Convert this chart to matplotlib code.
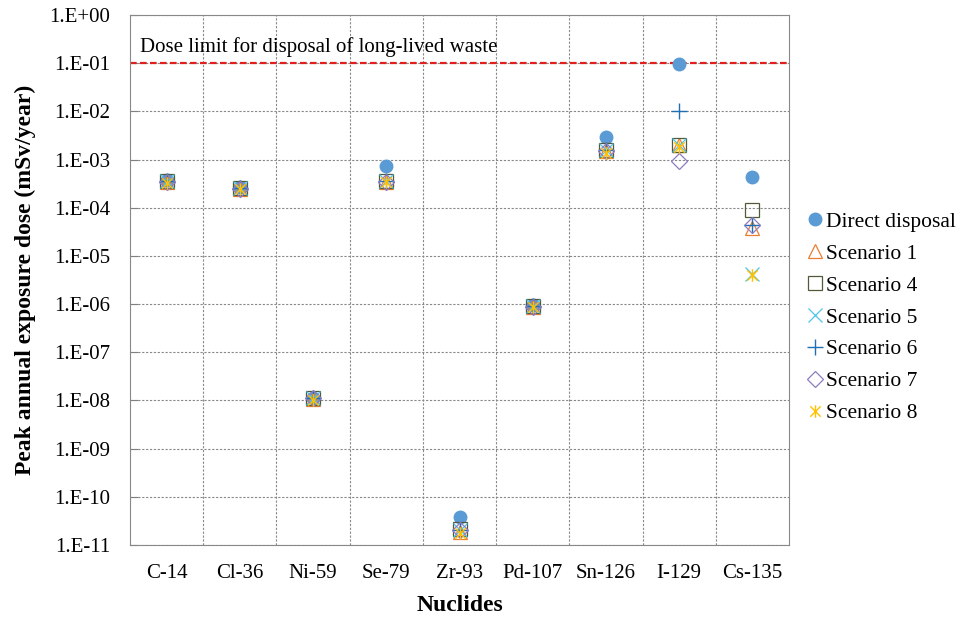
import matplotlib
matplotlib.use("Agg")
import matplotlib.pyplot as plt
import numpy as np
from matplotlib.path import Path
from matplotlib.ticker import FixedLocator, LogLocator, NullFormatter

plt.rcParams['font.family'] = ['Liberation Serif', 'DejaVu Serif']

nuclides = ["C-14", "Cl-36", "Ni-59", "Se-79", "Zr-93", "Pd-107", "Sn-126", "I-129", "Cs-135"]
direct = [3.8e-4, 2.7e-4, 1.15e-8, 7.5e-4, 3.8e-11, 9.5e-7, 2.9e-3, 9.6e-2, 4.4e-4]
scen1 = [3.4e-4, 2.5e-4, 1.05e-8, 3.5e-4, 1.9e-11, 8.8e-7, 1.5e-3, 2.0e-3, 3.8e-5]
scen4 = [3.6e-4, 2.6e-4, 1.1e-8, 3.6e-4, 2.1e-11, 9.2e-7, 1.6e-3, 2.0e-3, 9.0e-5]
scen5 = [3.6e-4, 2.6e-4, 1.1e-8, 3.6e-4, 2.0e-11, 9.0e-7, 1.6e-3, 2.0e-3, 4.3e-6]
scen6 = [3.6e-4, 2.6e-4, 1.1e-8, 3.6e-4, 2.0e-11, 9.0e-7, 1.6e-3, 1.0e-2, 4.3e-5]
scen7 = [3.5e-4, 2.5e-4, 1.1e-8, 3.5e-4, 2.0e-11, 8.9e-7, 1.5e-3, 9.5e-4, 4.4e-5]
scen8 = [3.3e-4, 2.4e-4, 1.0e-8, 3.4e-4, 1.8e-11, 8.5e-7, 1.4e-3, 1.8e-3, 4.0e-6]
dose_limit = 0.1
ytick_vals = [10.0 ** e for e in range(-11, 1)]
ytick_labels = ["1.E-11", "1.E-10", "1.E-09", "1.E-08", "1.E-07", "1.E-06",
                "1.E-05", "1.E-04", "1.E-03", "1.E-02", "1.E-01", "1.E+00"]

star = Path([(-1, -1), (1, 1), (-1, 1), (1, -1), (0, -1.2), (0, 1.2)],
            [Path.MOVETO, Path.LINETO, Path.MOVETO, Path.LINETO, Path.MOVETO, Path.LINETO])

fig = plt.figure(figsize=(9.6, 6.25), dpi=100)
ax = fig.add_axes([0.1354, 0.128, 0.6865, 0.848])
x = np.arange(len(nuclides))

series = [
    ("Direct disposal", direct, dict(marker='o', color='#5B9BD5', markersize=9, markeredgecolor='#5B9BD5')),
    ("Scenario 1", scen1, dict(marker='^', markerfacecolor='none', markeredgecolor='#ED7D31', markersize=10, markeredgewidth=0.9)),
    ("Scenario 4", scen4, dict(marker='s', markerfacecolor='none', markeredgecolor='#4F5B3A', markersize=10, markeredgewidth=0.9)),
    ("Scenario 5", scen5, dict(marker='x', markerfacecolor='none', markeredgecolor='#4BC6E8', markersize=10, markeredgewidth=0.9)),
    ("Scenario 6", scen6, dict(marker='+', markerfacecolor='none', markeredgecolor='#1F6FB4', markersize=12, markeredgewidth=1.0)),
    ("Scenario 7", scen7, dict(marker='D', markerfacecolor='none', markeredgecolor='#8E7CC3', markersize=8, markeredgewidth=0.9)),
    ("Scenario 8", scen8, dict(marker=star, markerfacecolor='none', markeredgecolor='#FFC000', markersize=9, markeredgewidth=1.0)),
]
for label, vals, kw in series:
    ax.plot(x, vals, linestyle='none', label=label, zorder=3, **kw)

ax.axhline(dose_limit, color='#E02020', linestyle=(0, (3, 1.5)), linewidth=1.6, zorder=2)
ax.text(0.015, 0.135, "Dose limit for disposal of long-lived waste", transform=ax.get_yaxis_transform(),
        fontsize=15, ha='left', va='bottom')

ax.set_yscale('log')
ax.set_ylim(1e-11, 1.0)
ax.set_xlim(-0.5, len(nuclides) - 0.5)
ax.set_yticks(ytick_vals)
ax.set_yticklabels(ytick_labels, fontsize=15)
ax.yaxis.set_minor_locator(LogLocator(base=10, subs=np.arange(2, 10)))
ax.yaxis.set_minor_formatter(NullFormatter())
ax.set_xticks(x)
ax.set_xticklabels(nuclides, fontsize=15)
ax.xaxis.set_minor_locator(FixedLocator(np.arange(0.5, len(nuclides) - 1, 1.0)))
ax.tick_params(axis='x', which='both', length=0, pad=14)
ax.tick_params(axis='y', which='major', length=6, direction='in', color='#808080', pad=14)
ax.tick_params(axis='y', which='minor', length=4, direction='in', color='#808080')
ax.grid(True, axis='y', which='major', linestyle=(0, (2, 1.5)), color='#888888', linewidth=0.8)
ax.grid(True, axis='x', which='minor', linestyle=(0, (2, 1.5)), color='#888888', linewidth=0.8)
for s in ax.spines.values():
    s.set_color('#888888')

ax.set_ylabel("Peak annual exposure dose (mSv/year)", fontsize=17, fontweight='bold', labelpad=10)
ax.set_xlabel("Nuclides", fontsize=17, fontweight='bold', labelpad=8)

leg = ax.legend(loc='upper left', bbox_to_anchor=(1.01, 0.645), frameon=False, fontsize=15.5,
                handletextpad=0.0, handlelength=1.0, labelspacing=0.55, borderaxespad=0)

fig.savefig("out.png", dpi=100)
